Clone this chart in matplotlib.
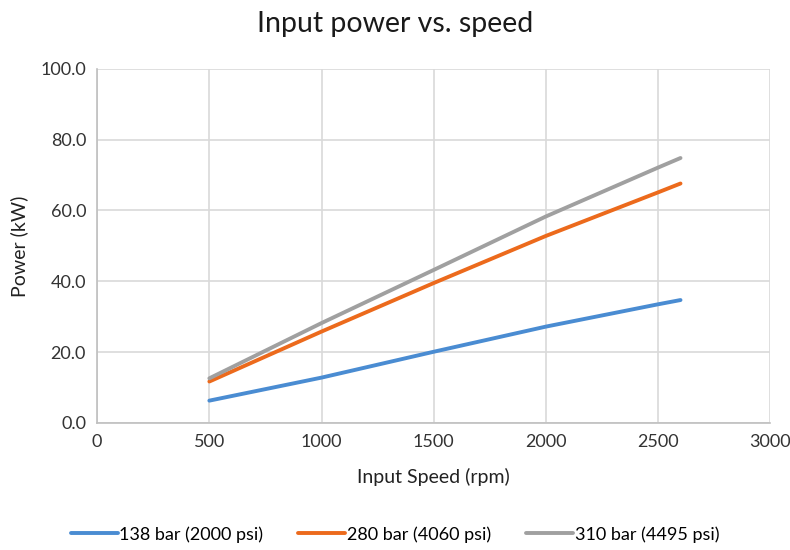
import numpy as np
import matplotlib.pyplot as plt

plt.rcParams['font.family'] = ['Lato', 'DejaVu Sans']

# velocidad de entrada (rpm) y potencia (kW)
speed = [500, 1000, 1500, 2000, 2500, 2600]
p138 = [6.3, 12.8, 20.1, 27.2, 33.5, 34.7]
p280 = [11.7, 25.8, 39.5, 52.8, 65.1, 67.6]
p310 = [12.6, 28.2, 43.2, 58.3, 72.1, 74.8]
labels = ['138 bar (2000 psi)', '280 bar (4060 psi)', '310 bar (4495 psi)']
colores = ['#4A8CD2', '#EC6A1C', '#A0A0A0']

fig = plt.figure(figsize=(7.9, 5.5), dpi=100)
ax = fig.add_axes([0.123, 0.231, 0.852, 0.644])

for y, lab, c in zip([p138, p280, p310], labels, colores):
    ax.plot(speed, y, color=c, lw=2.8, label=lab, solid_capstyle='round')

ax.set_xlim(0, 3000)
ax.set_ylim(0, 100)
ax.set_xticks(np.arange(0, 3001, 500))
ax.set_yticks(np.arange(0, 101, 20))
ax.set_yticklabels(['%.1f' % v for v in np.arange(0, 101, 20)])
ax.grid(True, color='#D9D9D9', lw=1.2)
ax.set_axisbelow(True)
for s in ['top', 'right']:
    ax.spines[s].set_visible(False)
for s in ['left', 'bottom']:
    ax.spines[s].set_color('#BFBFBF')
    ax.spines[s].set_linewidth(1.2)
ax.tick_params(length=0, labelsize=13, colors='#333333', pad=8)

fig.text(0.5, 0.956, 'Input power vs. speed', fontsize=20.5, color='#1a1a1a',
         ha='center', va='center')
ax.set_xlabel('Input Speed (rpm)', fontsize=14, labelpad=13, color='#222222')
ax.set_ylabel('Power (kW)', fontsize=14, labelpad=9, color='#222222')

fig.legend(loc='lower center', bbox_to_anchor=(0.5, -0.016), ncol=3, frameon=False,
           fontsize=13, handlelength=2.6, handletextpad=0.08, columnspacing=1.95)

fig.savefig('out.png', dpi=100)
